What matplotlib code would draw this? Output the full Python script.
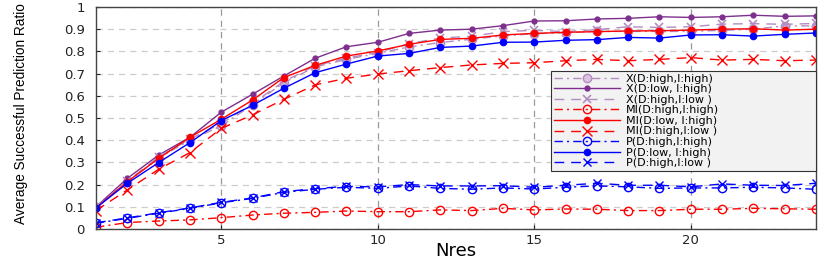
import matplotlib
matplotlib.use("Agg")
import matplotlib.pyplot as plt
import numpy as np

# Nres values
nres = list(range(1, 25))

# X series (purple)
x_hh = [0.10, 0.21, 0.32, 0.40, 0.464, 0.56, 0.659, 0.73, 0.764, 0.791, 0.82, 0.84,
        0.855, 0.87, 0.88, 0.884, 0.89, 0.89, 0.89, 0.89, 0.895, 0.90, 0.915, 0.915]
x_lh = [0.10, 0.228, 0.333, 0.413, 0.526, 0.607, 0.689, 0.769, 0.821, 0.841, 0.881, 0.896,
        0.90, 0.916, 0.937, 0.938, 0.946, 0.949, 0.956, 0.953, 0.956, 0.963, 0.958, 0.96]
x_hl = [0.10, 0.215, 0.325, 0.405, 0.475, 0.565, 0.665, 0.735, 0.77, 0.795, 0.835, 0.86,
        0.868, 0.889, 0.895, 0.889, 0.898, 0.911, 0.908, 0.911, 0.923, 0.925, 0.922, 0.926]

# MI series (red)
mi_hh = [0.008, 0.029, 0.036, 0.041, 0.051, 0.063, 0.071, 0.075, 0.081, 0.078, 0.078, 0.086,
         0.083, 0.093, 0.086, 0.09, 0.089, 0.083, 0.083, 0.089, 0.089, 0.093, 0.091, 0.089]
mi_lh = [0.095, 0.213, 0.318, 0.413, 0.494, 0.581, 0.682, 0.737, 0.779, 0.802, 0.832, 0.854,
         0.859, 0.874, 0.881, 0.886, 0.889, 0.892, 0.893, 0.896, 0.90, 0.902, 0.896, 0.90]
mi_hl = [0.083, 0.176, 0.269, 0.344, 0.453, 0.514, 0.584, 0.649, 0.679, 0.698, 0.713, 0.727,
         0.739, 0.746, 0.749, 0.758, 0.764, 0.758, 0.764, 0.772, 0.761, 0.764, 0.758, 0.761]

# P series (blue)
p_hh = [0.026, 0.048, 0.071, 0.093, 0.118, 0.138, 0.165, 0.179, 0.188, 0.183, 0.194, 0.183,
        0.179, 0.185, 0.18, 0.188, 0.194, 0.19, 0.183, 0.185, 0.185, 0.188, 0.185, 0.179]
p_lh = [0.095, 0.206, 0.299, 0.389, 0.488, 0.557, 0.634, 0.704, 0.743, 0.779, 0.791, 0.818,
        0.824, 0.841, 0.842, 0.85, 0.853, 0.863, 0.86, 0.874, 0.875, 0.869, 0.877, 0.883]
p_hl = [0.028, 0.05, 0.073, 0.095, 0.12, 0.14, 0.168, 0.182, 0.192, 0.19, 0.2, 0.194,
        0.194, 0.195, 0.188, 0.197, 0.206, 0.197, 0.197, 0.19, 0.203, 0.197, 0.196, 0.206]

labels = ["X(D:high,I:high)", "X(D:low, I:high)", "X(D:high,I:low )",
          "MI(D:high,I:high)", "MI(D:low, I:high)", "MI(D:high,I:low )",
          "P(D:high,I:high)", "P(D:low, I:high)", "P(D:high,I:low )"]

purple = "#7E2F8E"
light_purple = "#B38CC0"
dashdot = (0, (6, 3, 1.5, 3))
dashed = (0, (7, 5))

fig = plt.figure(figsize=(8.3, 2.62), dpi=100)
ax = fig.add_axes([96 / 830, 1 - 229 / 262, 720 / 830, 222 / 262])

ax.plot(nres, x_hh, color=light_purple, ls=dashdot, lw=1, marker="o", ms=6,
        mfc="#D9C3E0", mec=light_purple, label=labels[0])
ax.plot(nres, x_lh, color=purple, ls="-", lw=1, marker="o", ms=3.5,
        mfc=purple, mec=purple, label=labels[1])
ax.plot(nres, x_hl, color=light_purple, ls=dashed, lw=1, marker="x", ms=6,
        mew=1.2, label=labels[2])

ax.plot(nres, mi_hh, color="red", ls=dashdot, lw=1, marker="o", ms=6,
        mfc="none", mec="red", label=labels[3])
ax.plot(nres, mi_lh, color="red", ls="-", lw=1, marker="o", ms=4.5,
        mfc="red", mec="red", label=labels[4])
ax.plot(nres, mi_hl, color="red", ls=dashed, lw=1, marker="x", ms=7,
        mew=1, label=labels[5])

ax.plot(nres, p_hh, color="blue", ls=dashdot, lw=1, marker="o", ms=6,
        mfc="none", mec="blue", label=labels[6])
ax.plot(nres, p_lh, color="blue", ls="-", lw=1, marker="o", ms=4.5,
        mfc="blue", mec="blue", label=labels[7])
ax.plot(nres, p_hl, color="blue", ls=dashed, lw=1, marker="x", ms=6,
        mew=1, label=labels[8])

ax.set_xlim(1, 24)
ax.set_ylim(0, 1)
ax.set_xticks([5, 10, 15, 20])
ax.set_yticks(np.arange(0, 1.01, 0.1))
ax.set_yticklabels(["0", "0.1", "0.2", "0.3", "0.4", "0.5", "0.6", "0.7", "0.8", "0.9", "1"])
ax.tick_params(direction="in", length=3, labelsize=9.5, colors="#222222")
ax.tick_params(axis="y", pad=8)

ax.xaxis.grid(True, ls=(0, (5, 4)), color="#999999", lw=0.9)
ax.yaxis.grid(True, ls=(0, (5, 4)), color="#cccccc", lw=0.9)
ax.set_axisbelow(True)
for sp in ax.spines.values():
    sp.set_color("#444444")
    sp.set_linewidth(1)

ax.set_xlabel("Nres", fontsize=13)
ax.xaxis.set_label_coords(0.5, -0.06)
ax.set_ylabel("Average Successful Prediction Ratio", fontsize=9.8,
              family=["Liberation Sans", "DejaVu Sans"])
ax.yaxis.set_label_coords(-0.095, 0.52)

leg = ax.legend(loc="upper right", bbox_to_anchor=(0.632, 0.0, 0.368, 0.712),
                mode="expand", fontsize=8, labelspacing=0.05, handlelength=6,
                handletextpad=0.5, borderpad=0.25, borderaxespad=0, fancybox=False,
                framealpha=1)
leg.get_frame().set_facecolor("#f2f2f2")
leg.get_frame().set_edgecolor("#333333")
leg.get_frame().set_linewidth(0.8)

fig.savefig("out.png", dpi=100)
